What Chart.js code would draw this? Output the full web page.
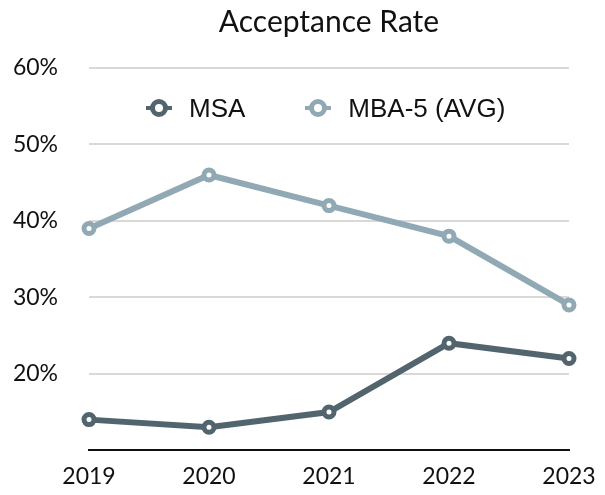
<!DOCTYPE html>
<html>
<head>
<meta charset="utf-8">
<script src="https://cdn.jsdelivr.net/npm/chart.js@4.4.0/dist/chart.umd.min.js"></script>
<style>
    html, body { margin: 0; padding: 0; background: #fff; }
    #wrap { position: relative; width: 605px; height: 495px; }
    #legend {
        position: absolute; top: 92px; left: 146px; height: 32px;
        display: flex; align-items: center;
        font-family: "Liberation Sans", Arial, sans-serif; font-size: 26px; color: #111;
    }
    .item { display: flex; align-items: center; }
    .item + .item { margin-left: 60px; }
    .mark { position: relative; width: 26px; height: 20px; margin-right: 17px; }
    .mark .line { position: absolute; left: 0; right: 0; top: 8px; height: 4px; }
    .mark .dot {
        position: absolute; left: 4px; top: 1px; width: 8px; height: 8px;
        border-radius: 50%; border: 5px solid; background: #fff;
    }
</style>
</head>
<body>
<div id="wrap">
    <canvas id="chart" width="605" height="495"></canvas>
    <div id="legend"></div>
</div>
<script>
const years = ['2019', '2020', '2021', '2022', '2023'];
const msa = [14, 13, 15, 24, 22];
const mba5 = [39, 46, 42, 38, 29];
const seriesNames = ['MSA', 'MBA-5 (AVG)'];
const seriesColors = ['#52656f', '#90a9b5'];

const fontFamily = 'Lato, "Open Sans", sans-serif';

// HTML legend (sits inside the plot area like the original)
const legend = document.getElementById('legend');
seriesNames.forEach((name, i) => {
    const item = document.createElement('span');
    item.className = 'item';
    const c = seriesColors[i];
    item.innerHTML = `<span class="mark"><span class="line" style="background:${c}"></span>` +
        `<span class="dot" style="border-color:${c}"></span></span>${name}`;
    legend.appendChild(item);
});

const ctx = document.getElementById('chart').getContext('2d');
new Chart(ctx, {
    type: 'line',
    data: {
        labels: years,
        datasets: [msa, mba5].map((vals, i) => ({
            label: seriesNames[i],
            data: vals,
            borderColor: seriesColors[i],
            backgroundColor: '#fff',
            borderWidth: 6,
            pointRadius: 5,
            pointBorderWidth: 5,
            pointBackgroundColor: '#fff',
            pointBorderColor: seriesColors[i],
            tension: 0
        }))
    },
    options: {
        responsive: false,
        animation: false,
        layout: { padding: { left: 10, right: 36, bottom: 2 } },
        plugins: {
            legend: { display: false },
            tooltip: { enabled: false },
            title: {
                display: true,
                fullSize: false,
                text: 'Acceptance Rate',
                color: '#111',
                font: { family: fontFamily, size: 30, weight: 'normal' },
                padding: { top: 4, bottom: 28 }
            }
        },
        scales: {
            x: {
                offset: false,
                afterFit: (s) => {
                    s.height = 39;
                    s.paddingLeft = 0;
                    s.paddingRight = 0;
                },
                grid: { display: false, drawTicks: false },
                border: { color: '#111', width: 2 },
                ticks: {
                    color: '#111',
                    padding: 13,
                    maxRotation: 0,
                    font: { family: fontFamily, size: 23 }
                }
            },
            y: {
                min: 10,
                max: 60,
                afterFit: (s) => { s.width = 79; },
                grid: {
                    color: (c) => c.tick && c.tick.value === 10 ? 'rgba(0,0,0,0)' : '#d9d9d9',
                    lineWidth: 2,
                    drawTicks: false
                },
                border: { display: false },
                ticks: {
                    stepSize: 10,
                    color: '#111',
                    padding: 31,
                    font: { family: fontFamily, size: 23 },
                    callback: (v) => v === 10 ? '' : v + '%'
                }
            }
        }
    }
});
</script>
</body>
</html>
